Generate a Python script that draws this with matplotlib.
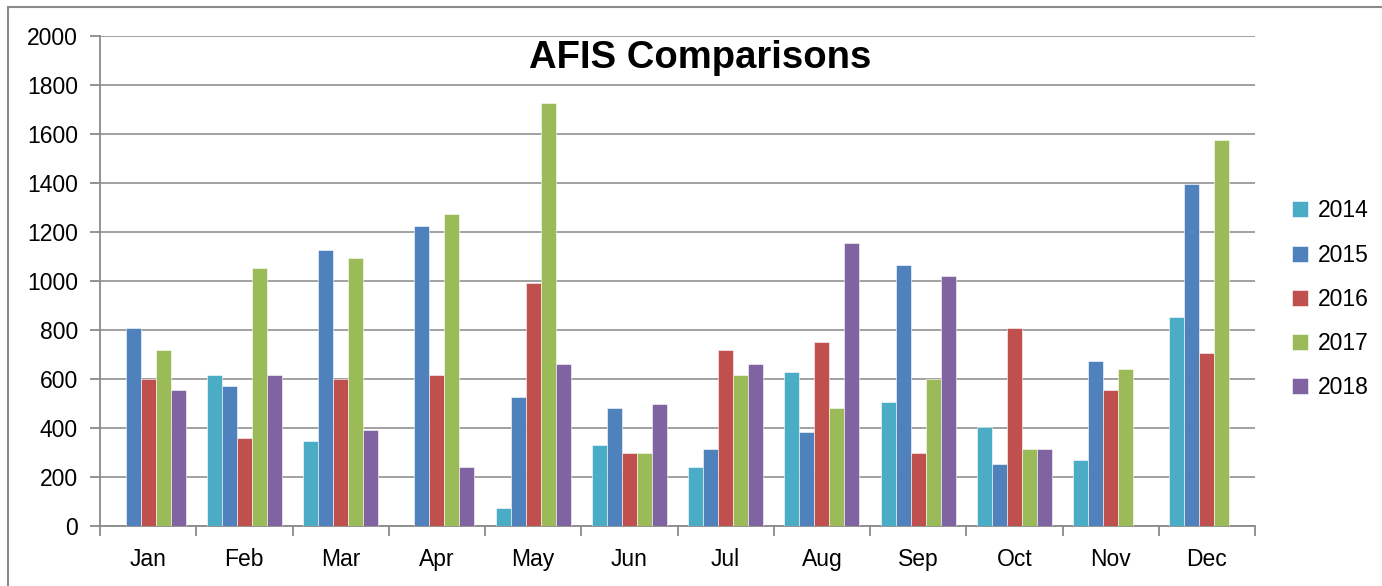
import numpy as np
import matplotlib
matplotlib.use("Agg")
import matplotlib.pyplot as plt
from matplotlib.patches import Rectangle

plt.rcParams["font.family"] = ["Liberation Sans", "DejaVu Sans"]

# data
months = ["Jan", "Feb", "Mar", "Apr", "May", "Jun",
          "Jul", "Aug", "Sep", "Oct", "Nov", "Dec"]
years = ["2014", "2015", "2016", "2017", "2018"]
v2014 = [0, 615, 345, 0, 75, 330, 240, 630, 505, 405, 270, 855]
v2015 = [810, 570, 1125, 1225, 525, 480, 315, 385, 1065, 255, 675, 1395]
v2016 = [600, 360, 600, 615, 990, 300, 720, 750, 300, 810, 555, 705]
v2017 = [720, 1055, 1095, 1275, 1725, 300, 615, 480, 600, 315, 640, 1575]
v2018 = [555, 615, 390, 240, 660, 500, 660, 1155, 1020, 315, 0, 0]
colors = ["#4BACC6", "#4F81BD", "#C0504D", "#9BBB59", "#8064A2"]

series = [v2014, v2015, v2016, v2017, v2018]

fig = plt.figure(figsize=(13.82, 5.86), dpi=100)
ax = fig.add_axes([100 / 1382, 60 / 586, 1155 / 1382, 490 / 586])

x = np.arange(len(months))
w = 0.156
for i, (vals, yr, c) in enumerate(zip(series, years, colors)):
    ax.bar(x + (i - 2) * w, vals, width=w, color=c, label=yr,
           edgecolor="white", linewidth=0.4, zorder=3)

ax.set_xlim(-0.5, 11.5)
ax.set_ylim(0, 2000)
ax.set_yticks(range(0, 2001, 200))
ax.grid(axis="y", color="#9a9a9a", linewidth=1.3, zorder=0)
ax.set_axisbelow(True)

ax.set_xticks(x)
ax.set_xticklabels(months)
ax.set_xticks(np.arange(-0.5, 12, 1), minor=True)
ax.tick_params(axis="x", which="major", length=0, labelsize=16.5, pad=16)
ax.tick_params(axis="x", which="minor", length=7, color="#8a8a8a", width=1.3)
ax.tick_params(axis="y", length=7, color="#8a8a8a", width=1.3, labelsize=16.5, pad=9)

for s in ["top", "right"]:
    ax.spines[s].set_visible(False)
for s in ["left", "bottom"]:
    ax.spines[s].set_color("#8a8a8a")
    ax.spines[s].set_linewidth(1.3)

ax.text(0.52, 0.955, "AFIS Comparisons", transform=ax.transAxes,
        ha="center", va="center", fontsize=27.5, fontweight="bold")

ax.legend(loc="center left", bbox_to_anchor=(1.014, 0.463), frameon=False,
          fontsize=16.5, handlelength=0.7, handleheight=0.7,
          labelspacing=0.92, handletextpad=0.45)

fig.patches.append(Rectangle((8 / 1382, -0.01), 1.02, (586 - 7) / 586 + 0.01,
                             transform=fig.transFigure, fill=False,
                             edgecolor="#8a8a8a", linewidth=1.5))

fig.savefig("out.png", dpi=100)
